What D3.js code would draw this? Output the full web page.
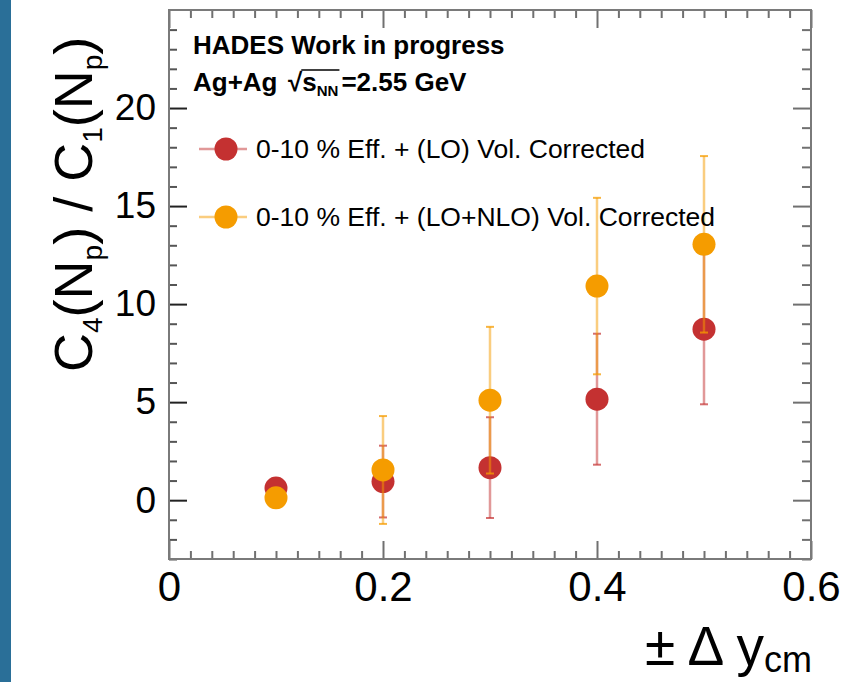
<!DOCTYPE html>
<html>
<head>
<meta charset="utf-8">
<script src="https://cdn.jsdelivr.net/npm/d3@7"></script>
<style>
  html, body { margin: 0; padding: 0; background: #ffffff; }
  svg { display: block; }
  text { font-family: "Liberation Sans", Arial, Helvetica, sans-serif; fill: #000; }
</style>
</head>
<body>
<svg id="chart" width="846" height="682"></svg>
<script>
// Rapidity window half-widths (x) and cumulant ratio C4/C1 for protons
const rapidityWindows = [0.1, 0.2, 0.3, 0.4, 0.5];
const loValues  = [0.62, 0.95, 1.66, 5.15, 8.72];
const loErrors  = [0.35, 1.83, 2.57, 3.34, 3.83];
const nloValues = [0.12, 1.54, 5.10, 10.92, 13.05];
const nloErrors = [0.35, 2.75, 3.74, 4.50, 4.50];

const seriesNames = [
  "0-10 % Eff. + (LO) Vol. Corrected",
  "0-10 % Eff. + (LO+NLO) Vol. Corrected"
];

const xDomain = [0, 0.6];
const yDomain = [-3, 25];
const xMajorTicks = [0, 0.2, 0.4, 0.6];
const xTickLabels = ["0", "0.2", "0.4", "0.6"];
const yMajorTicks = [0, 5, 10, 15, 20];
const yTickLabels = ["0", "5", "10", "15", "20"];

const svg = d3.select("#chart");

// slide edge strip
svg.append("rect").attr("x", 0).attr("y", 0).attr("width", 11).attr("height", 682)
  .attr("fill", "#2a6f98");

const frame = { left: 169, right: 811, top: 10, bottom: 559 };
const x = d3.scaleLinear().domain(xDomain).range([frame.left, frame.right]);
const y = d3.scaleLinear().domain(yDomain).range([frame.bottom, frame.top]);

const xMinor = d3.range(0, 61).map(i => i / 100).filter((v, i) => i % 2 === 0 && i % 20 !== 0);
const yMinor = d3.range(-3, 26).filter(v => v % 5 !== 0);

const tickGray = "#707070";

function styleAxis(g, color, width) {
  g.select(".domain").remove();
  g.selectAll(".tick line").attr("stroke", color).attr("stroke-width", width);
}

// bottom axis: minor and major ticks, labels
svg.append("g").attr("transform", `translate(0,${frame.bottom})`)
  .call(d3.axisBottom(x).tickValues(xMinor).tickSize(-8).tickFormat(""))
  .call(g => styleAxis(g, tickGray, 2));
svg.append("g").attr("transform", `translate(0,${frame.bottom})`)
  .call(d3.axisBottom(x).tickValues(xMajorTicks).tickSize(-18).tickPadding(12)
    .tickFormat((d, i) => xTickLabels[i]))
  .call(g => styleAxis(g, tickGray, 2))
  .call(g => g.selectAll("text").attr("font-size", 42).attr("fill", "#000"));

// top axis ticks
svg.append("g").attr("transform", `translate(0,${frame.top})`)
  .call(d3.axisTop(x).tickValues(xMinor).tickSize(-8).tickFormat(""))
  .call(g => styleAxis(g, tickGray, 2));
svg.append("g").attr("transform", `translate(0,${frame.top})`)
  .call(d3.axisTop(x).tickValues(xMajorTicks).tickSize(-18).tickFormat(""))
  .call(g => styleAxis(g, tickGray, 2));

// left axis
svg.append("g").attr("transform", `translate(${frame.left},0)`)
  .call(d3.axisLeft(y).tickValues(yMinor).tickSize(-8).tickFormat(""))
  .call(g => styleAxis(g, "#555", 2));
svg.append("g").attr("transform", `translate(${frame.left},0)`)
  .call(d3.axisLeft(y).tickValues(yMajorTicks).tickSize(-18).tickPadding(13)
    .tickFormat((d, i) => yTickLabels[i]))
  .call(g => styleAxis(g, "#222", 2))
  .call(g => g.selectAll("text").attr("font-size", 37).attr("fill", "#000"));

// right axis ticks
svg.append("g").attr("transform", `translate(${frame.right},0)`)
  .call(d3.axisRight(y).tickValues(yMinor).tickSize(-9).tickFormat(""))
  .call(g => styleAxis(g, tickGray, 2));
svg.append("g").attr("transform", `translate(${frame.right},0)`)
  .call(d3.axisRight(y).tickValues(yMajorTicks).tickSize(-18).tickFormat(""))
  .call(g => styleAxis(g, tickGray, 2));

// frame
svg.append("rect")
  .attr("x", frame.left).attr("y", frame.top)
  .attr("width", frame.right - frame.left).attr("height", frame.bottom - frame.top)
  .attr("fill", "none").attr("stroke", "#7a7a7a").attr("stroke-width", 2);

// data series
const series = [
  { values: loValues, errors: loErrors, color: "#c43131", errColor: "rgba(196,49,49,0.5)", capColor: "rgba(196,49,49,0.7)" },
  { values: nloValues, errors: nloErrors, color: "#f59c00", errColor: "rgba(245,156,0,0.5)", capColor: "rgba(245,156,0,0.75)" }
];
const radius = 11.5;
const capHalf = 4;

series.forEach(s => {
  const pts = rapidityWindows.map((xv, i) => ({ x: xv, v: s.values[i], e: s.errors[i] }));
  const g = svg.append("g");
  g.selectAll("line.err").data(pts).join("line").attr("class", "err")
    .attr("x1", d => x(d.x)).attr("x2", d => x(d.x))
    .attr("y1", d => y(d.v - d.e)).attr("y2", d => y(d.v + d.e))
    .attr("stroke", s.errColor).attr("stroke-width", 2.5);
  ["lo", "hi"].forEach(side => {
    g.selectAll("line.cap-" + side).data(pts).join("line").attr("class", "cap-" + side)
      .attr("x1", d => x(d.x) - capHalf).attr("x2", d => x(d.x) + capHalf)
      .attr("y1", d => y(side === "lo" ? d.v - d.e : d.v + d.e))
      .attr("y2", d => y(side === "lo" ? d.v - d.e : d.v + d.e))
      .attr("stroke", s.capColor).attr("stroke-width", 2);
  });
  g.selectAll("circle").data(pts).join("circle")
    .attr("cx", d => x(d.x)).attr("cy", d => y(d.v)).attr("r", radius)
    .attr("fill", s.color);
});

// header text
svg.append("text").attr("x", 193).attr("y", 54).attr("font-size", 26).attr("font-weight", "bold")
  .text("HADES Work in progress");

const line2 = svg.append("g");
let cursor = 193;
function piece(str, size, dy) {
  const t = line2.append("text").attr("x", cursor).attr("y", 91 + (dy || 0))
    .attr("font-size", size).attr("font-weight", "bold").text(str);
  const w = t.node().getComputedTextLength();
  const x0 = cursor;
  cursor += w;
  return [x0, cursor];
}
piece("Ag+Ag", 26);
cursor = 288;
const sq = piece("\u221A", 26);
piece("s", 26);
const nn = piece("NN", 15, 5);
cursor += 3;
piece("=2.55 GeV", 26);
line2.append("line").attr("x1", sq[1] - 1).attr("x2", nn[1] + 1)
  .attr("y1", 70).attr("y2", 70).attr("stroke", "#000").attr("stroke-width", 1.5);

// legend
const legendRows = [149, 217];
series.forEach((s, i) => {
  const ly = legendRows[i];
  svg.append("line").attr("x1", 199).attr("x2", 247).attr("y1", ly).attr("y2", ly)
    .attr("stroke", s.errColor).attr("stroke-width", 2.5);
  svg.append("circle").attr("cx", 226).attr("cy", ly).attr("r", radius).attr("fill", s.color);
  svg.append("text").attr("x", 256).attr("y", ly + 9).attr("font-size", 26.5).text(seriesNames[i]);
});

// y-axis title
const yTitle = svg.append("text")
  .attr("transform", "translate(92,372) rotate(-90)")
  .attr("x", 0).attr("y", 0).attr("font-size", 54).attr("text-anchor", "start");
const subSize = 28;
[["C", 0], ["4", 1], ["(N", 0], ["p", 1], [") / C", 0], ["1", 1], ["(N", 0], ["p", 1], [")", 0]]
  .forEach(([str, sub], i, arr) => {
    const prevSub = i > 0 ? arr[i - 1][1] : 0;
    const shift = (sub ? 10 : 0) - (prevSub ? 10 : 0);
    yTitle.append("tspan").attr("dy", shift).attr("font-size", sub ? subSize : 54).text(str);
  });

// x-axis title
const xTitle = svg.append("text").attr("x", 812).attr("y", 665)
  .attr("font-size", 55).attr("text-anchor", "end");
xTitle.append("tspan").text("\u00B1 \u0394 y");
xTitle.append("tspan").attr("font-size", 36).attr("dy", 7).text("cm");
</script>
</body>
</html>
